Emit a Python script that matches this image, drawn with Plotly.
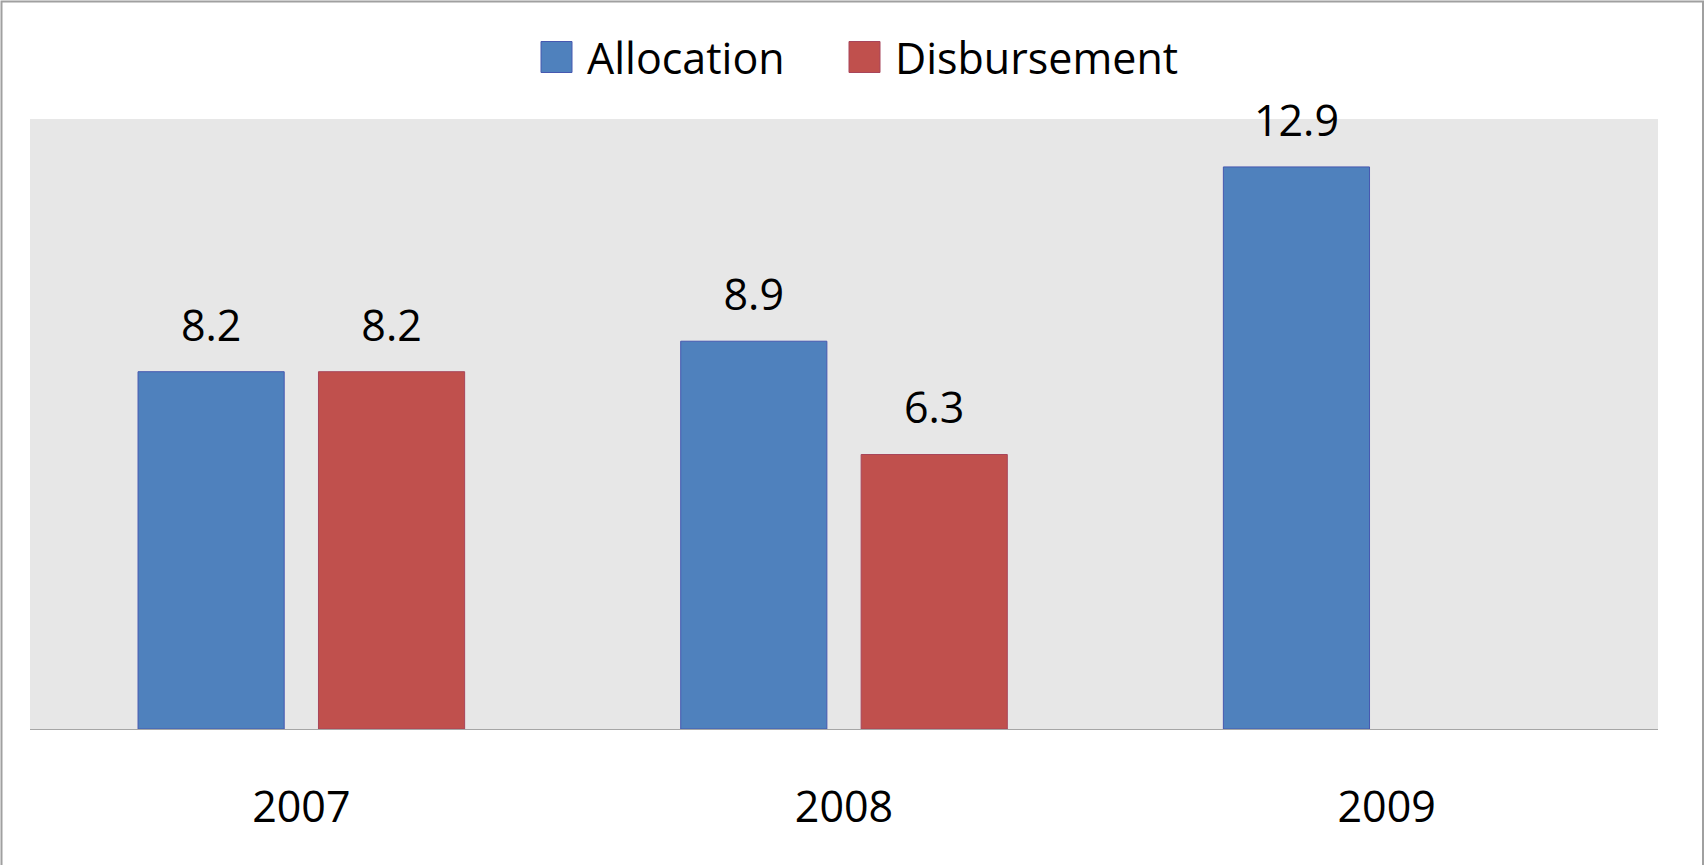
import plotly.graph_objects as go

# ---- data ----
years = ["2007", "2008", "2009"]
allocation = [8.2, 8.9, 12.9]
disbursement = [8.2, 6.3, None]
series_names = ["Allocation", "Disbursement"]

# ---- styling ----
W, H = 1705, 865
ML, MR, MT, MB = 30, 47, 119, 136
PW, PH = W - ML - MR, H - MT - MB
FONT = "Open Sans, Lato, sans-serif"
FS = 43
colors = ["#4F81BD", "#C0504D"]
line_colors = ["#4658B0", "#A8455A"]


def px_x(px):
    return (px - ML) / PW


def px_y(py):
    return (H - MB - py) / PH


fig = go.Figure()
series = [allocation, disbursement]
for i, (name, vals) in enumerate(zip(series_names, series)):
    fig.add_trace(go.Bar(
        x=years, y=vals, name=name, offsetgroup=str(i),
        marker=dict(color=colors[i], line=dict(color=line_colors[i], width=1)),
        showlegend=False, hoverinfo="skip",
    ))
for i, (name, vals) in enumerate(zip(series_names, series)):
    fig.add_trace(go.Scatter(
        x=years, y=vals, offsetgroup=str(i), mode="markers+text",
        marker=dict(size=31, opacity=0),
        text=[("%.1f" % v) if v is not None else "" for v in vals],
        textposition="top center",
        textfont=dict(family=FONT, size=FS, color="black"),
        cliponaxis=False, showlegend=False, hoverinfo="skip",
    ))

# custom legend (large square swatches)
legend_left_px = [541, 849]
sq = 31
legend_cy = 57
shapes = []
annotations = []
for i, name in enumerate(series_names):
    x0 = legend_left_px[i]
    shapes.append(dict(
        type="rect", xref="paper", yref="paper",
        x0=px_x(x0), x1=px_x(x0 + sq),
        y0=px_y(legend_cy + sq / 2), y1=px_y(legend_cy - sq / 2),
        fillcolor=colors[i], line=dict(color=line_colors[i], width=1),
    ))
    annotations.append(dict(
        xref="paper", yref="paper", x=px_x(x0 + sq + 13), y=px_y(legend_cy + 1),
        xanchor="left", yanchor="middle", showarrow=False, text=name,
        font=dict(family=FONT, size=FS, color="black"),
    ))

# outer chart border
shapes.append(dict(
    type="rect", xref="paper", yref="paper", layer="above",
    x0=px_x(1.5), x1=px_x(W - 2), y0=px_y(H + 2), y1=px_y(1.5),
    line=dict(color="#A0A0A0", width=2), fillcolor="rgba(0,0,0,0)",
))

fig.update_layout(
    width=W, height=H,
    margin=dict(l=ML, r=MR, t=MT, b=MB, pad=0),
    paper_bgcolor="white", plot_bgcolor="#E7E7E7",
    barmode="group", bargap=0.335, bargroupgap=0.19,
    scattermode="group", scattergap=0.335,
    showlegend=False,
    shapes=shapes, annotations=annotations,
    font=dict(family=FONT, size=FS, color="black"),
)
fig.update_xaxes(
    type="category", showgrid=False, zeroline=False,
    showline=True, linecolor="#A6A6A6", linewidth=1,
    ticks="", ticklabelstandoff=40,
    tickfont=dict(family=FONT, size=FS, color="black"),
)
fig.update_yaxes(
    range=[0, 14], showgrid=False, zeroline=False,
    showticklabels=False, showline=False, ticks="",
)

fig.write_html(
    "out.html",
    config={"displayModeBar": False},
    post_script="document.body.style.margin='0px';"
                "document.documentElement.style.overflow='hidden';",
)
